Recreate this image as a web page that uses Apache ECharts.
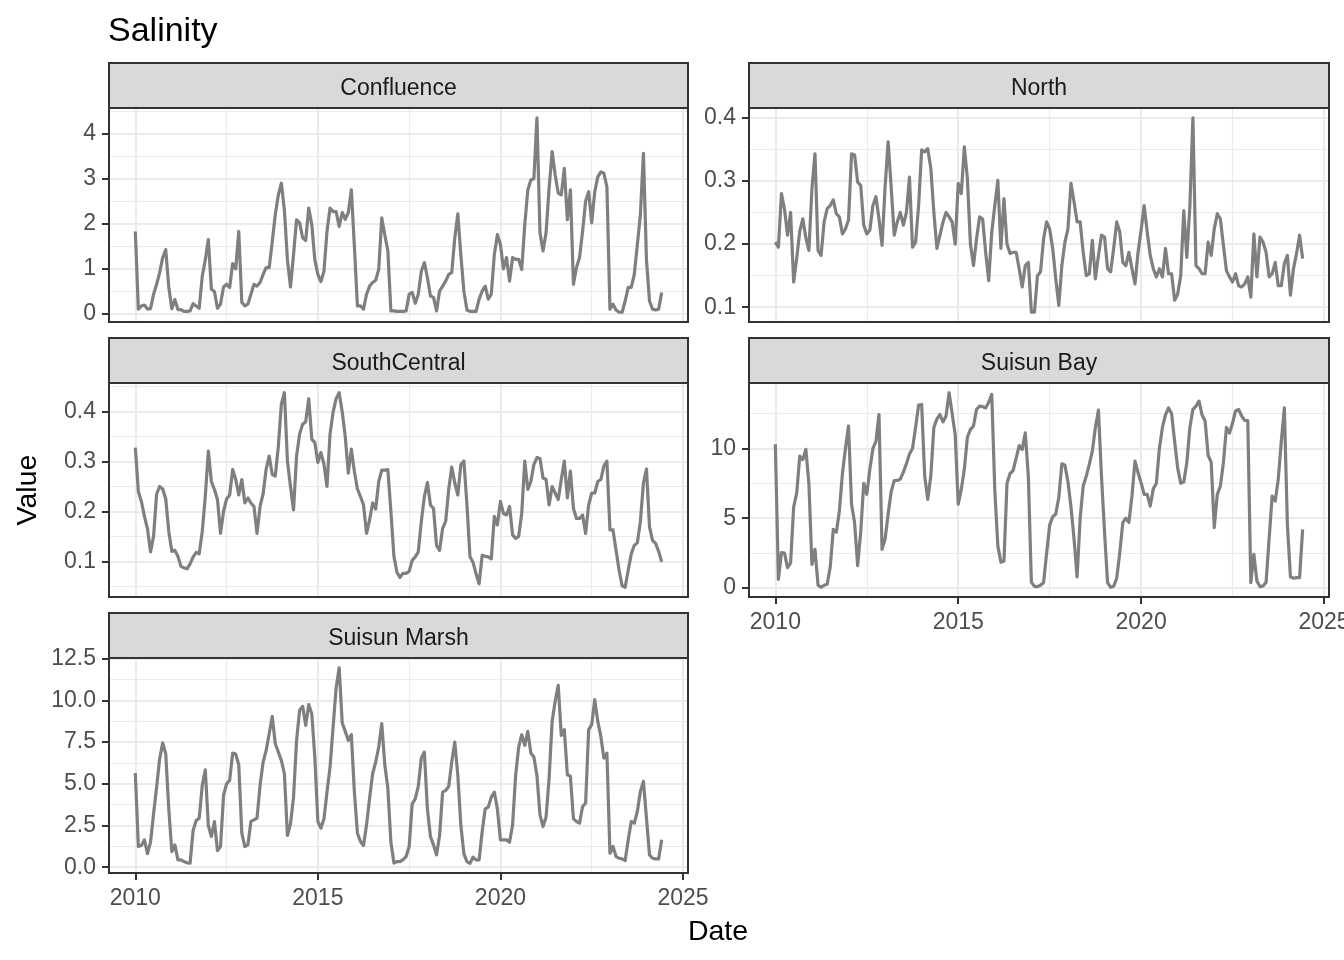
<!DOCTYPE html>
<html><head><meta charset="utf-8">
<script src="https://cdn.jsdelivr.net/npm/echarts@6/dist/echarts.min.js"></script>
<style>html,body{margin:0;padding:0;background:#fff}#c{width:1344px;height:960px}</style>
</head><body><div id="c"></div>
<script>
// Monthly salinity values, starting January 2010
const startYear = 2010;
const confluence = [1.83,0.11,0.18,0.2,0.11,0.12,0.44,0.66,0.92,1.25,
 1.43,0.6,0.12,0.32,0.1,0.1,0.06,0.06,0.07,0.23,
 0.18,0.13,0.84,1.2,1.65,0.55,0.5,0.13,0.22,0.6,
 0.66,0.59,1.12,1.0,1.83,0.26,0.18,0.22,0.44,0.66,
 0.62,0.7,0.88,1.03,1.03,1.6,2.2,2.64,2.9,2.3,
 1.2,0.6,1.32,2.09,2.02,1.69,1.63,2.35,1.98,1.2,
 0.88,0.72,0.95,1.83,2.35,2.27,2.27,1.94,2.25,2.1,
 2.25,2.75,1.5,0.18,0.18,0.11,0.44,0.62,0.7,0.75,
 0.99,2.13,1.75,1.4,0.07,0.07,0.06,0.06,0.06,0.07,
 0.44,0.48,0.24,0.44,0.95,1.14,0.81,0.4,0.37,0.07,
 0.51,0.62,0.73,0.88,0.92,1.69,2.22,1.3,0.5,0.09,
 0.06,0.06,0.06,0.33,0.51,0.62,0.33,0.44,1.32,1.76,
 1.54,1.0,1.25,0.73,1.25,1.21,1.21,0.99,1.98,2.75,
 2.97,3.0,4.35,1.8,1.4,1.8,2.79,3.6,3.08,2.68,
 2.64,3.23,2.09,2.75,0.66,1.03,1.25,1.83,2.5,2.71,
 2.02,2.71,3.04,3.15,3.12,2.82,0.11,0.22,0.09,0.04,
 0.04,0.29,0.59,0.59,0.88,1.54,2.2,3.56,1.2,0.29,
 0.11,0.09,0.11,0.48];
const north = [0.203,0.195,0.28,0.255,0.214,0.25,0.14,0.177,0.22,0.24,
 0.21,0.19,0.288,0.343,0.19,0.182,0.235,0.256,0.261,0.27,
 0.248,0.243,0.216,0.224,0.238,0.343,0.341,0.298,0.293,0.23,
 0.216,0.222,0.261,0.275,0.24,0.198,0.29,0.362,0.29,0.214,
 0.235,0.25,0.23,0.25,0.306,0.195,0.203,0.261,0.349,0.346,
 0.351,0.32,0.25,0.193,0.214,0.235,0.25,0.243,0.235,0.2,
 0.296,0.28,0.354,0.304,0.2,0.166,0.208,0.243,0.24,0.187,
 0.142,0.219,0.261,0.301,0.193,0.272,0.2,0.185,0.187,0.187,
 0.161,0.132,0.166,0.171,0.092,0.092,0.15,0.156,0.208,0.235,
 0.224,0.193,0.145,0.103,0.166,0.203,0.224,0.296,0.267,0.235,
 0.235,0.187,0.15,0.153,0.206,0.145,0.182,0.214,0.211,0.161,
 0.156,0.193,0.235,0.219,0.171,0.166,0.187,0.161,0.137,0.187,
 0.222,0.261,0.219,0.182,0.161,0.148,0.161,0.148,0.193,0.153,
 0.153,0.111,0.121,0.15,0.253,0.179,0.26,0.4,0.166,0.161,
 0.153,0.153,0.203,0.182,0.224,0.248,0.24,0.198,0.158,0.148,
 0.14,0.153,0.134,0.132,0.137,0.148,0.116,0.216,0.148,0.211,
 0.203,0.187,0.148,0.153,0.171,0.134,0.134,0.169,0.182,0.119,
 0.161,0.185,0.214,0.177];
const southCentral = [0.328,0.24,0.22,0.19,0.165,0.119,0.15,0.235,0.25,0.245,
 0.225,0.16,0.12,0.122,0.11,0.09,0.087,0.085,0.095,0.109,
 0.118,0.115,0.16,0.23,0.321,0.26,0.244,0.224,0.156,0.2,
 0.225,0.233,0.284,0.264,0.233,0.264,0.217,0.227,0.217,0.21,
 0.156,0.21,0.235,0.285,0.311,0.274,0.271,0.33,0.415,0.438,
 0.301,0.25,0.203,0.311,0.355,0.375,0.38,0.426,0.345,0.338,
 0.298,0.318,0.295,0.25,0.355,0.399,0.426,0.438,0.4,0.35,
 0.277,0.325,0.28,0.245,0.23,0.213,0.156,0.183,0.217,0.205,
 0.26,0.283,0.283,0.284,0.2,0.11,0.078,0.068,0.076,0.076,
 0.08,0.102,0.109,0.119,0.18,0.23,0.258,0.213,0.206,0.132,
 0.122,0.166,0.18,0.244,0.289,0.257,0.233,0.294,0.301,0.213,
 0.109,0.098,0.075,0.055,0.112,0.11,0.109,0.105,0.19,0.173,
 0.22,0.196,0.193,0.21,0.153,0.146,0.15,0.196,0.301,0.244,
 0.26,0.294,0.308,0.306,0.267,0.264,0.213,0.25,0.237,0.224,
 0.264,0.301,0.227,0.281,0.206,0.186,0.186,0.193,0.156,0.213,
 0.237,0.237,0.26,0.264,0.291,0.301,0.163,0.163,0.122,0.082,
 0.051,0.048,0.082,0.115,0.132,0.137,0.18,0.257,0.285,0.169,
 0.142,0.136,0.12,0.099];
const suisunBay = [10.3,0.62,2.53,2.5,1.46,1.8,5.8,6.8,9.45,9.2,
 9.93,7.5,1.69,2.77,0.2,0.05,0.19,0.26,1.5,4.2,
 4.0,5.5,8.2,10.0,11.6,6.0,4.68,1.6,4.0,7.5,
 6.71,8.5,10.0,10.5,12.43,2.77,3.5,5.3,6.9,7.7,
 7.7,7.8,8.3,8.9,9.6,10.0,11.5,13.1,13.15,8.0,
 6.35,8.02,11.5,12.1,12.43,11.9,12.32,13.99,12.5,11.0,
 6.0,7.06,8.5,10.8,11.36,11.6,12.79,13.03,13.0,12.9,
 13.3,13.87,7.0,3.0,1.85,1.93,7.5,8.2,8.4,9.3,
 10.2,9.93,11.12,8.0,0.4,0.12,0.1,0.19,0.38,2.5,
 4.5,5.1,5.3,6.5,8.9,8.8,7.6,5.8,3.5,0.8,
 5.0,7.3,8.0,8.85,9.81,11.5,12.74,8.0,4.0,0.38,
 0.05,0.12,0.7,2.53,4.68,5.0,4.7,6.59,9.09,8.26,
 7.54,6.71,6.71,5.87,7.1,7.5,10.0,11.5,12.4,12.9,
 12.5,10.5,8.6,7.5,7.6,8.97,11.5,12.8,13.03,13.39,
 12.4,11.96,9.5,9.0,4.32,6.71,7.3,8.97,11.5,11.1,
 11.8,12.7,12.79,12.32,12.0,12.0,0.38,2.41,0.5,0.1,
 0.14,0.4,3.5,6.59,6.23,7.8,10.5,12.91,4.5,0.8,
 0.7,0.74,0.74,4.2];
const suisunMarsh = [5.64,1.24,1.3,1.64,0.82,1.5,3.2,4.8,6.5,7.45,
 6.8,3.5,0.94,1.34,0.44,0.44,0.34,0.26,0.24,2.2,
 2.8,2.94,4.9,5.84,2.5,1.84,2.74,1.0,1.24,4.3,
 5.0,5.2,6.84,6.78,6.14,2.04,1.24,1.34,2.75,2.84,
 2.94,4.9,6.3,7.0,8.0,9.04,7.4,6.9,6.4,5.6,
 1.9,2.6,4.2,7.6,9.4,9.64,8.5,9.74,9.2,6.6,
 2.74,2.34,2.9,4.5,6.0,8.4,10.74,11.95,8.64,8.14,
 7.6,7.94,4.5,2.04,1.54,1.3,2.54,4.14,5.6,6.3,
 7.2,8.6,6.14,4.74,1.5,0.25,0.34,0.34,0.45,0.64,
 1.24,3.8,4.1,4.84,6.54,6.9,3.5,1.84,1.34,0.74,
 1.9,4.5,4.6,4.84,6.3,7.5,5.5,2.5,0.8,0.34,
 0.24,0.6,0.44,0.44,2.14,3.5,3.6,4.2,4.5,3.5,
 1.64,1.64,1.64,1.5,2.54,5.5,7.2,7.94,7.3,8.14,
 6.84,6.6,5.5,3.14,2.44,3.0,5.34,8.74,9.94,10.9,
 7.9,8.24,5.54,5.44,2.9,2.74,2.64,3.64,3.84,8.24,
 8.54,10.04,8.74,7.84,6.54,6.84,0.84,1.24,0.64,0.54,
 0.5,0.4,1.64,2.74,2.64,3.34,4.54,5.14,2.94,0.74,
 0.54,0.5,0.5,1.64];

// Tick labels
const xTicks = [2010, 2015, 2020, 2025];
const confluenceTicks = [0, 1, 2, 3, 4];
const northTicks = [0.1, 0.2, 0.3, 0.4];
const southCentralTicks = [0.1, 0.2, 0.3, 0.4];
const suisunBayTicks = [0, 5, 10];
const suisunMarshTicks = [0, 2.5, 5, 7.5, 10, 12.5];

const FONT = '"Liberation Sans", Arial, Helvetica, sans-serif';
const n = confluence.length;
const lastX = startYear + (n - 1) / 12;
const xPad = 0.05 * (lastX - startYear);
const xMin = startYear - xPad, xMax = lastX + xPad;

const panels = [
  { name: 'Confluence', values: confluence, ticks: confluenceTicks, dec: 0, left: 109, top: 108, width: 579, height: 214, showX: false, split: 5, minor: 2 },
  { name: 'North', values: north, ticks: northTicks, dec: 1, left: 749, top: 108, width: 580, height: 214, showX: false, split: 3, minor: 2 },
  { name: 'SouthCentral', values: southCentral, ticks: southCentralTicks, dec: 1, left: 109, top: 383, width: 579, height: 214, showX: false, split: 4, minor: 2 },
  { name: 'Suisun Bay', values: suisunBay, ticks: suisunBayTicks, dec: 0, left: 749, top: 383, width: 580, height: 214, showX: true, split: 3, minor: 2 },
  { name: 'Suisun Marsh', values: suisunMarsh, ticks: suisunMarshTicks, dec: 1, left: 109, top: 658, width: 579, height: 215, showX: true, split: 3, minor: 4 }
];

const grids = [], xAxes = [], yAxes = [], series = [], graphics = [];
const majorGrid = { color: '#EBEBEB', width: 2 };
const minorGrid = { color: '#EBEBEB', width: 1.1 };
const tickStyle = { color: '#333333', width: 2 };
const labelStyle = { color: '#4D4D4D', fontSize: 23, fontFamily: FONT };

panels.forEach((p, k) => {
  const vmin = Math.min(...p.values), vmax = Math.max(...p.values);
  const yPad = 0.05 * (vmax - vmin);
  grids.push({ left: p.left, top: p.top, width: p.width, height: p.height,
    containLabel: false, outerBoundsMode: 'none', show: false });
  xAxes.push({
    type: 'value', gridIndex: k, min: xMin, max: xMax, splitNumber: 3,
    axisLine: { show: false, onZero: false },
    axisTick: { show: p.showX, customValues: xTicks, length: 7, lineStyle: tickStyle },
    axisLabel: Object.assign({ show: p.showX, customValues: xTicks, margin: 14, hideOverlap: false,
      formatter: v => String(Math.round(v)) }, labelStyle),
    splitLine: { show: true, lineStyle: majorGrid },
    minorTick: { show: false, splitNumber: 2 },
    minorSplitLine: { show: true, lineStyle: minorGrid }
  });
  yAxes.push({
    type: 'value', gridIndex: k, min: vmin - yPad, max: vmax + yPad, splitNumber: p.split,
    axisLine: { show: false, onZero: false },
    axisTick: { show: true, customValues: p.ticks, length: 7, lineStyle: tickStyle },
    axisLabel: Object.assign({ show: true, customValues: p.ticks, margin: 13, padding: [4, 0, 0, 0],
      formatter: v => v.toFixed(p.dec) }, labelStyle),
    splitLine: { show: true, lineStyle: majorGrid },
    minorTick: { show: false, splitNumber: p.minor },
    minorSplitLine: { show: true, lineStyle: minorGrid }
  });
  series.push({
    type: 'line', name: p.name, xAxisIndex: k, yAxisIndex: k,
    data: p.values.map((v, i) => [startYear + i / 12, v]),
    showSymbol: false, symbol: 'none', silent: true, clip: true,
    lineStyle: { color: '#7F7F7F', width: 3.2, join: 'round', cap: 'butt' },
    itemStyle: { color: '#7F7F7F' }
  });
  // strip
  graphics.push({ type: 'rect', z: 100, shape: { x: p.left, y: p.top - 45, width: p.width, height: 45 },
    style: { fill: '#D9D9D9', stroke: '#333333', lineWidth: 2 } });
  graphics.push({ type: 'text', z: 101, x: p.left + p.width / 2, y: p.top - 19.5,
    style: { text: p.name, fill: '#1A1A1A', fontSize: 23, fontFamily: FONT, align: 'center', verticalAlign: 'middle' } });
  // panel border
  graphics.push({ type: 'rect', z: 100, shape: { x: p.left, y: p.top, width: p.width, height: p.height },
    style: { fill: 'none', stroke: '#333333', lineWidth: 2 } });
});

graphics.push({ type: 'text', z: 101, x: 108, y: 32,
  style: { text: 'Salinity', fill: '#000000', fontSize: 34, fontFamily: FONT, align: 'left', verticalAlign: 'middle' } });
graphics.push({ type: 'text', z: 101, x: 718, y: 932,
  style: { text: 'Date', fill: '#000000', fontSize: 28.5, fontFamily: FONT, align: 'center', verticalAlign: 'middle' } });
graphics.push({ type: 'text', z: 101, x: 28, y: 490, rotation: Math.PI / 2,
  style: { text: 'Value', fill: '#000000', fontSize: 28.5, fontFamily: FONT, align: 'center', verticalAlign: 'middle' } });

const chart = echarts.init(document.getElementById('c'), null, { renderer: 'canvas' });
chart.setOption({
  animation: false,
  backgroundColor: '#FFFFFF',
  grid: grids, xAxis: xAxes, yAxis: yAxes, series: series,
  graphic: { elements: graphics }
});
</script></body></html>
